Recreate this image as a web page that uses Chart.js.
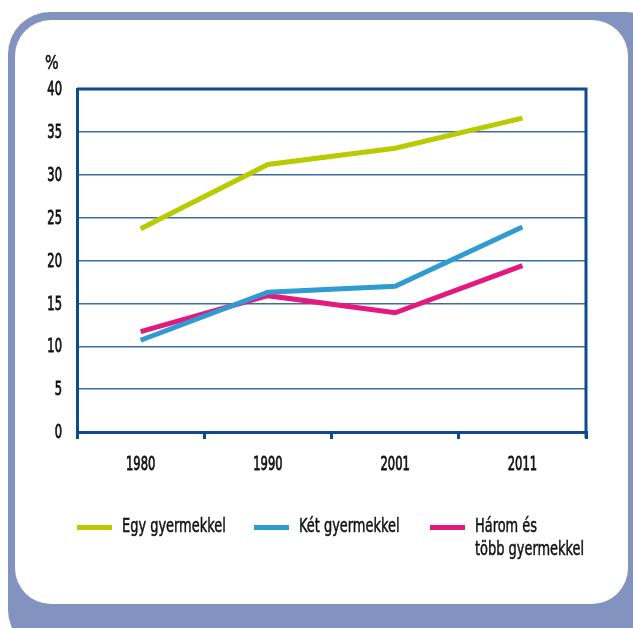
<!DOCTYPE html>
<html>
<head>
<meta charset="utf-8">
<script src="https://cdn.jsdelivr.net/npm/chart.js@4.4.1/dist/chart.umd.min.js"></script>
<style>
    html, body { margin: 0; padding: 0; background: #ffffff; overflow: hidden; }
    body { width: 633px; height: 628px; position: relative; font-family: "DejaVu Sans Condensed", sans-serif; }
    .frame { position: absolute; left: 8px; top: 12px; width: 660px; height: 640px; background: #8293bf; border-radius: 42px; }
    .inner { position: absolute; left: 15px; top: 20px; width: 613px; height: 584px; background: #ffffff; border-radius: 36px; }
    #wrap { position: absolute; left: 0; top: 0; width: 633px; height: 628px; }
    .unit { position: absolute; left: 45px; top: 50px; font-size: 20px; color: #111; transform: scaleX(0.8); transform-origin: left top; -webkit-text-stroke: 0.5px #111; }
    .legend { position: absolute; top: 514px; left: 0; width: 633px; height: 60px; }
    .item { position: absolute; top: 0; font-size: 20px; line-height: 23px; color: #111; white-space: nowrap; }
    .item .txt { display: inline-block; transform: scaleX(0.72); transform-origin: left top; -webkit-text-stroke: 0.5px #111; }
    .item .swatch { position: absolute; left: -45px; top: 11px; width: 35px; height: 5px; }
</style>
</head>
<body>
<div class="frame"></div>
<div class="inner"></div>
<div id="wrap"><canvas id="chartGyermek" width="633" height="628"></canvas></div>
<div class="unit">%</div>
<div class="legend" id="legend"></div>
<script>
// adatok
const evek = ['1980', '1990', '2001', '2011'];
const egyGyermek = [23.7, 31.2, 33.1, 36.6];
const ketGyermek = [10.7, 16.3, 17.0, 23.9];
const haromGyermek = [11.7, 15.9, 13.9, 19.4];
const sorozatNevek = ['Egy gyermekkel', 'Két gyermekkel', 'Három és\ntöbb gyermekkel'];
const sorozatSzinek = ['#b8cb00', '#2f9bd0', '#e4197f'];
const yTicks = [0, 5, 10, 15, 20, 25, 30, 35, 40];

const tengelySzin = '#0c4c8c';
const racsSzin = '#3d6c9f';
const betu = '"DejaVu Sans Condensed", sans-serif';
const szukites = 0.64; // keskeny betuk

// keret a diagram teruletere (felso es jobb oldal)
const keretPlugin = {
    id: 'keret',
    afterDraw(chart) {
        const { ctx, chartArea } = chart;
        ctx.save();
        ctx.strokeStyle = tengelySzin;
        ctx.lineWidth = 3;
        ctx.beginPath();
        ctx.moveTo(chartArea.left, chartArea.top);
        ctx.lineTo(chartArea.right, chartArea.top);
        ctx.lineTo(chartArea.right, chartArea.bottom + 6);
        ctx.stroke();
        ctx.restore();
    }
};

// tengelyfeliratok keskenyitett betuvel
const feliratPlugin = {
    id: 'feliratok',
    afterDraw(chart) {
        const { ctx } = chart;
        const xs = chart.scales.x;
        const ys = chart.scales.y;
        const rajzol = (szoveg, x, y, igazit, meret) => {
            ctx.save();
            ctx.translate(x, y);
            ctx.scale(szukites, 1);
            ctx.font = meret + 'px ' + betu;
            ctx.fillStyle = '#111';
            ctx.strokeStyle = '#111';
            ctx.lineWidth = 0.8;
            ctx.textAlign = igazit;
            ctx.textBaseline = 'middle';
            ctx.fillText(szoveg, 0, 0);
            ctx.strokeText(szoveg, 0, 0);
            ctx.restore();
        };
        xs.ticks.forEach((t, i) => {
            rajzol(evek[i], xs.getPixelForTick(i), chart.chartArea.bottom + 33, 'center', 20);
        });
        ys.ticks.forEach((t, i) => {
            rajzol(String(t.value), chart.chartArea.left - 15, ys.getPixelForTick(i) + 1, 'right', 20);
        });
    }
};

const canvas = document.getElementById('chartGyermek');
const ctx = canvas.getContext('2d');

const adatsorok = [egyGyermek, ketGyermek, haromGyermek];

const chart = new Chart(ctx, {
    type: 'line',
    data: {
        labels: evek,
        datasets: adatsorok.map((d, i) => ({
            label: sorozatNevek[i],
            data: d,
            borderColor: sorozatSzinek[i],
            backgroundColor: sorozatSzinek[i],
            borderWidth: 5,
            pointRadius: 0,
            tension: 0,
            fill: false,
            borderCapStyle: 'butt'
        }))
    },
    options: {
        responsive: false,
        animation: false,
        layout: { padding: { top: 89, right: 47, left: 0, bottom: 0 } },
        plugins: {
            legend: { display: false },
            tooltip: { enabled: false }
        },
        scales: {
            x: {
                offset: true,
                grid: {
                    offset: true,
                    drawOnChartArea: false,
                    drawTicks: true,
                    tickLength: 7,
                    color: tengelySzin,
                    lineWidth: 3
                },
                border: { color: tengelySzin, width: 3 },
                ticks: { color: 'rgba(0,0,0,0)', font: { family: betu, size: 19 } },
                afterFit(scale) { scale.height = 196; }
            },
            y: {
                min: 0,
                max: 40,
                afterBuildTicks(scale) { scale.ticks = yTicks.map(v => ({ value: v })); },
                grid: {
                    drawTicks: false,
                    color: racsSzin,
                    lineWidth: 1.5
                },
                border: { color: tengelySzin, width: 3 },
                ticks: { color: 'rgba(0,0,0,0)', font: { family: betu, size: 19 } },
                afterFit(scale) { scale.width = 77; }
            }
        }
    },
    plugins: [keretPlugin, feliratPlugin]
});

// jelmagyarazat
const legendX = [122, 299, 475];
const legend = document.getElementById('legend');
sorozatNevek.forEach((nev, i) => {
    const el = document.createElement('div');
    el.className = 'item';
    el.style.left = legendX[i] + 'px';
    el.innerHTML = '<span class="swatch" style="background:' + sorozatSzinek[i] + '"></span>' +
        '<span class="txt">' + nev.replace('\n', '<br>') + '</span>';
    legend.appendChild(el);
});
</script>
</body>
</html>
